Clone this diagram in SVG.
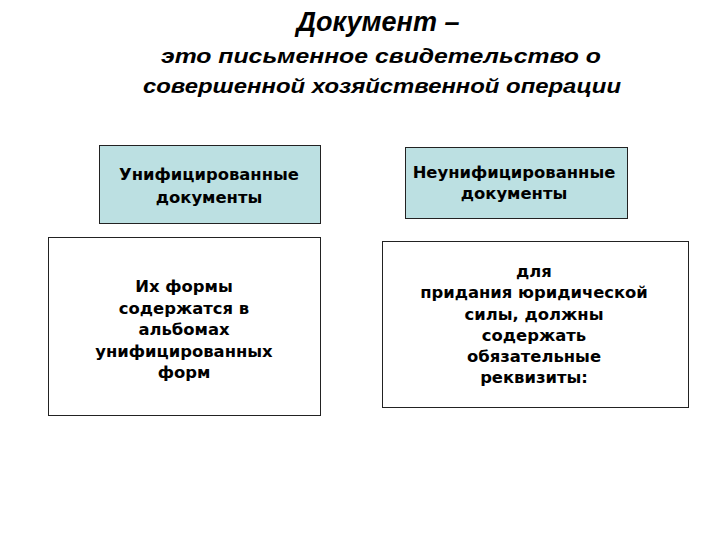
<svg xmlns="http://www.w3.org/2000/svg" width="720" height="540" viewBox="0 0 720 540">
<style>
.bg{fill:#ffffff}
.head{font-family:"Liberation Sans",Arial,sans-serif;font-weight:bold;font-style:italic;fill:#000;text-anchor:middle}
.box{stroke:#222;stroke-width:1}
.blue{fill:#BCE0E2}
.white{fill:#ffffff}
.lbl{font-family:"DejaVu Sans",Verdana,sans-serif;font-weight:bold;font-size:16.4px;fill:#000;text-anchor:middle}
</style>
<rect class="bg" x="0" y="0" width="720" height="540"/>
<g id="title">
<text class="head" x="378" y="31" font-size="27">Документ –</text>
<text class="head" x="381" y="63" font-size="21" textLength="440" lengthAdjust="spacingAndGlyphs">это письменное свидетельство  о</text>
<text class="head" x="382" y="93" font-size="21" textLength="478" lengthAdjust="spacingAndGlyphs">совершенной хозяйственной операции</text>
</g>
<g id="unified">
<rect class="box blue" x="99.5" y="145.5" width="221" height="78"/>
<text class="lbl" x="209" y="180">Унифицированные</text>
<text class="lbl" x="209" y="203">документы</text>
</g>
<g id="nonunified">
<rect class="box blue" x="405.5" y="147.5" width="222" height="71"/>
<text class="lbl" x="514" y="178">Неунифицированные</text>
<text class="lbl" x="514" y="199">документы</text>
</g>
<g id="forms">
<rect class="box white" x="48.5" y="237.5" width="272" height="178"/>
<text class="lbl" x="184" y="292">Их формы</text>
<text class="lbl" x="184" y="313.5">содержатся  в</text>
<text class="lbl" x="184" y="335">альбомах</text>
<text class="lbl" x="184" y="356.5">унифицированных</text>
<text class="lbl" x="184" y="378">форм</text>
</g>
<g id="requisites">
<rect class="box white" x="382.5" y="241.5" width="306" height="166"/>
<text class="lbl" x="534" y="277">для</text>
<text class="lbl" x="534" y="298">придания юридической</text>
<text class="lbl" x="534" y="319.5">силы, должны</text>
<text class="lbl" x="534" y="340.5">содержать</text>
<text class="lbl" x="534" y="362">обязательные</text>
<text class="lbl" x="534" y="383">реквизиты:</text>
</g>
<g id="connectors"></g>
</svg>
